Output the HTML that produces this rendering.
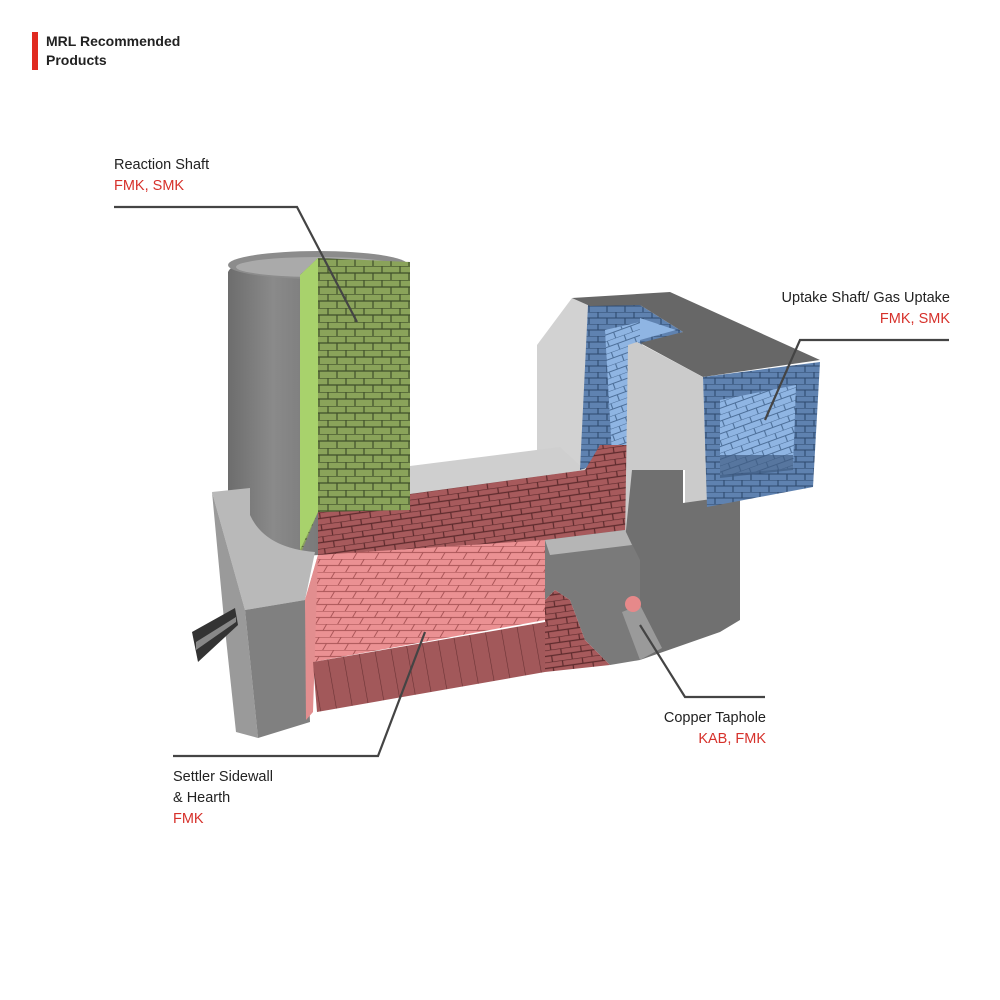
<!DOCTYPE html>
<html><head><meta charset="utf-8"><style>
html,body{margin:0;padding:0;background:#fff;}
body{width:1000px;height:1000px;position:relative;overflow:hidden;font-family:"Liberation Sans",sans-serif;}
.t{position:absolute;font-size:14.5px;color:#222;line-height:21px;}
.r{color:#d6312b;}
</style></head><body>
<svg width="1000" height="1000" style="position:absolute;left:0;top:0">
<defs>
<pattern id="gb" width="18" height="14" patternUnits="userSpaceOnUse">
<rect width="18" height="14" fill="#8aa35a"/><path d="M0 0H18M0 7H18M4 0V7M13 7V14" stroke="#3f4f2a" stroke-width="1.2"/></pattern>
<pattern id="rb" width="22" height="13" patternUnits="userSpaceOnUse" patternTransform="skewX(-30)">
<rect width="22" height="13" fill="#eb9193"/><path d="M0 0H22M0 6.5H22M5 0V6.5M16 6.5V13" stroke="#a85456" stroke-width="1.1"/></pattern>
<pattern id="rw" width="20" height="12" patternUnits="userSpaceOnUse" patternTransform="rotate(-8)">
<rect width="20" height="12" fill="#a75a5c"/><path d="M0 0H20M0 6H20M5 0V6M15 6V12" stroke="#5e2b2d" stroke-width="1.2"/></pattern>
<pattern id="rf" width="16" height="60" patternUnits="userSpaceOnUse" patternTransform="rotate(-10)">
<rect width="16" height="60" fill="#a2585a"/><path d="M0 0V60" stroke="#6a3234" stroke-width="1.2"/></pattern>
<pattern id="bb" width="18" height="12" patternUnits="userSpaceOnUse">
<rect width="18" height="12" fill="#5f82b0"/><path d="M0 0H18M0 6H18M4 0V6M13 6V12" stroke="#2f4a6e" stroke-width="1.1"/></pattern>
<pattern id="bl" width="18" height="12" patternUnits="userSpaceOnUse" patternTransform="rotate(-20)">
<rect width="18" height="12" fill="#8fb5e3"/><path d="M0 0H18M0 6H18M4 0V6M13 6V12" stroke="#4d6f99" stroke-width="1.1"/></pattern>
<linearGradient id="cyl" x1="0" x2="1"><stop offset="0" stop-color="#6d6d6d"/><stop offset="0.5" stop-color="#8a8a8a"/><stop offset="1" stop-color="#7a7a7a"/></linearGradient>
</defs>
<rect x="32" y="32" width="6" height="38" fill="#e02a20"/>
<polygon points="537,345 572,298 592,300 585,470 537,458" fill="#d2d2d2"/>
<polygon points="410,466 560,447 585,470 410,494" fill="#cfcfcf"/>
<polygon points="588,305 640,305 683,332 640,345 640,450 580,470" fill="url(#bb)"/>
<polygon points="605,330 640,322 640,450 612,455" fill="url(#bl)"/>
<polygon points="640,318 676,330 640,340" fill="#8fb5e3"/>
<polygon points="318,505 410,505 410,494 585,470 600,445 632,445 632,545 545,545 318,560" fill="url(#rw)"/>
<polygon points="572,298 670,292 820,360 703,377 640,343 683,332 640,305 590,306" fill="#676767"/>
<polygon points="637,342 703,377 707,507 685,503 685,470 632,470 632,540 625,540 628,345" fill="#cbcbcb"/>
<polygon points="683,470 683,503 740,495 740,620 720,632 640,660 625,540 632,470" fill="#707070"/>
<polygon points="703,377 820,362 813,487 707,507" fill="url(#bb)"/>
<polygon points="720,400 796,385 793,468 720,475" fill="url(#bl)"/>
<polygon points="720,455 793,455 793,470 720,478" fill="#3e5b82" opacity="0.7"/>
<path d="M228,272 L228,540 Q250,560 318,555 L318,262 Q300,255 270,258 Q232,262 228,272Z" fill="url(#cyl)"/>
<ellipse cx="318" cy="265" rx="90" ry="14" fill="#8c8c8c"/>
<ellipse cx="318" cy="267" rx="82" ry="10" fill="#aaa"/>
<path d="M300,275 L318,258 L410,262 L410,510 L318,512 L300,555Z" fill="url(#gb)"/>
<polygon points="300,275 318,258 318,512 300,550" fill="#a8d26c"/>
<path d="M212,492 L250,488 L250,515 Q265,548 315,552 L305,600 L245,610Z" fill="#b9b9b9"/>
<polygon points="212,492 245,610 258,738 236,732 224,620" fill="#9a9a9a"/>
<polygon points="245,610 305,600 310,722 258,738" fill="#808080"/>
<polygon points="192,632 235,608 238,625 198,662" fill="#333"/>
<polygon points="196,642 236,617 236,622 196,650" fill="#888"/>
<polygon points="318,555 545,540 545,620 313,662 305,600" fill="url(#rb)"/>
<polygon points="305,600 318,555 313,712 306,720" fill="#e28e8f"/>
<polygon points="313,662 545,622 545,672 317,712" fill="url(#rf)"/>
<polygon points="545,540 625,530 640,560 640,660 610,665 585,640 570,600 555,590 545,600" fill="#7a7a7a"/>
<polygon points="545,540 625,530 632,545 550,555" fill="#b5b5b5"/>
<polygon points="545,600 555,590 570,600 585,640 610,665 545,672" fill="url(#rw)"/>
<polygon points="622,612 640,605 662,648 640,660" fill="#9a9a9a"/>
<circle cx="633" cy="604" r="8" fill="#e6898a"/>
<g stroke="#444" stroke-width="2.2" fill="none">
<polyline points="114,207 297,207 357,322"/>
<polyline points="949,340 800,340 765,420"/>
<polyline points="765,697 685,697 640,625"/>
<polyline points="173,756 378,756 425,632"/>
</g>
</svg>
<div class="t" style="left:46px;top:32px;font-weight:bold;font-size:14px;line-height:19px;color:#222">MRL Recommended<br>Products</div>
<div class="t" style="left:114px;top:155px">Reaction Shaft<br><span class="r">FMK, SMK</span></div>
<div class="t" style="left:700px;top:288px;width:250px;text-align:right">Uptake Shaft/ Gas Uptake<br><span class="r">FMK, SMK</span></div>
<div class="t" style="left:600px;top:708px;width:166px;text-align:right">Copper Taphole<br><span class="r">KAB, FMK</span></div>
<div class="t" style="left:173px;top:767px">Settler Sidewall<br>&amp; Hearth<br><span class="r">FMK</span></div>
</body></html>
